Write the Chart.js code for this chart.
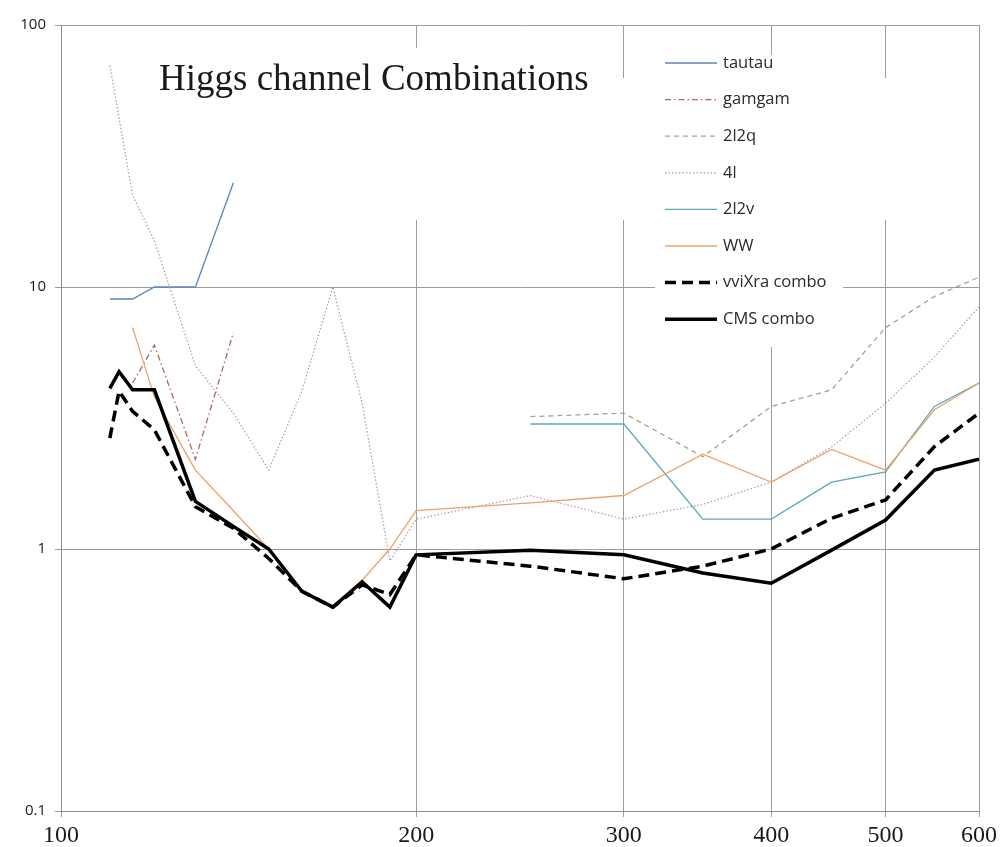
<!DOCTYPE html>
<html>
<head>
<meta charset="utf-8">
<title>Higgs channel Combinations</title>
<script src="https://cdn.jsdelivr.net/npm/chart.js@4.4.1/dist/chart.umd.min.js"></script>
<style>
  html, body { margin: 0; padding: 0; background: #fff; }
  #wrap { width: 1001px; height: 847px; }
</style>
</head>
<body>
<div id="wrap"><canvas id="higgs" width="1001" height="847"></canvas></div>
<script>
// Higgs mass points (GeV), shared by all the series below
const masses = [110, 112, 115, 120, 130, 140, 150, 160, 170, 180, 190, 200, 250, 300, 350, 400, 450, 500, 550, 600];

// limits per channel (null = no point at that mass)
const tautau = [9.0, null, 9.0, 10, 10, 25, null, null, null, null, null, null, null, null, null, null, null, null, null, null];
const gamgam = [null, null, 4.3, 6.0, 2.2, 6.7, null, null, null, null, null, null, null, null, null, null, null, null, null, null];
const twoL2q = [null, null, null, null, null, null, null, null, null, null, null, null, 3.2, 3.3, 2.25, 3.5, 4.05, 7.0, 9.2, 10.9];
const fourL  = [70, null, 22.4, 15, 5.0, 3.3, 2.0, 4.0, 10, 3.6, 0.9, 1.3, 1.6, 1.3, 1.48, 1.8, 2.45, 3.6, 5.4, 8.4];
const twoL2v = [null, null, null, null, null, null, null, null, null, null, null, null, 3.0, 3.0, 1.3, 1.3, 1.8, 1.97, 3.5, 4.3];
const ww     = [null, null, 7.0, 3.8, 2.0, 1.4, 1.0, 0.7, 0.6, 0.76, 1.0, 1.4, 1.5, 1.6, 2.3, 1.8, 2.4, 2.0, 3.4, 4.3];
const vvixra = [2.65, 4.0, 3.35, 2.85, 1.45, 1.2, 0.92, 0.69, 0.6, 0.73, 0.67, 0.95, 0.86, 0.77, 0.86, 1.0, 1.31, 1.54, 2.46, 3.3];
const cms    = [4.1, 4.75, 4.05, 4.05, 1.52, 1.22, 1.0, 0.69, 0.6, 0.75, 0.6, 0.95, 0.99, 0.95, 0.81, 0.74, 0.99, 1.29, 2.0, 2.2];

const xTicks = [100, 200, 300, 400, 500, 600];
const yTicks = [0.1, 1, 10, 100];

const titleText = "Higgs channel Combinations";

// turn one value list into {x, y} points, dropping the empty masses
function points(values) {
  return masses
    .map((m, i) => ({ x: m, y: values[i] }))
    .filter(p => p.y !== null);
}

const series = [
  { label: "tautau",       data: points(tautau), borderColor: "#5a86b8", borderWidth: 1.3, borderDash: [] },
  { label: "gamgam",       data: points(gamgam), borderColor: "#a86868", borderWidth: 1.3, borderDash: [6, 3, 1.5, 3] },
  { label: "2l2q",         data: points(twoL2q), borderColor: "#a3a585", borderWidth: 1.3, borderDash: [5, 4] },
  { label: "4l",           data: points(fourL),  borderColor: "#a899b8", borderWidth: 1.2, borderDash: [1.5, 2] },
  { label: "2l2v",         data: points(twoL2v), borderColor: "#5aa8bd", borderWidth: 1.3, borderDash: [] },
  { label: "WW",           data: points(ww),     borderColor: "#eba26a", borderWidth: 1.3, borderDash: [] },
  { label: "vviXra combo", data: points(vvixra), borderColor: "#000000", borderWidth: 3.5, borderDash: [11, 6] },
  { label: "CMS combo",    data: points(cms),    borderColor: "#000000", borderWidth: 3.5, borderDash: [] }
];

// later series sit on top, like the original spreadsheet chart
series.forEach((s, i) => {
  s.order = series.length - 1 - i;
  s.fill = false;
  s.pointRadius = 0;
  s.tension = 0;
});

// white patches behind the title and legend hide the grid there
const paperBoxes = [
  [150, 48, 450, 172],
  [600, 78, 300, 142],
  [655, 55, 188, 292]
];

const paperPlugin = {
  id: "paper",
  beforeDatasetsDraw(chart) {
    const ctx = chart.ctx;
    ctx.save();
    ctx.fillStyle = "#ffffff";
    paperBoxes.forEach(b => ctx.fillRect(b[0], b[1], b[2], b[3]));
    ctx.restore();
  }
};

// title and legend drawn by hand so the line samples keep their dashes
const annotatePlugin = {
  id: "annotate",
  afterDraw(chart) {
    const ctx = chart.ctx;
    ctx.save();
    ctx.fillStyle = "#1a1a1a";
    ctx.font = "37px 'Liberation Serif', serif";
    ctx.textBaseline = "alphabetic";
    ctx.fillText(titleText, 159, 90);

    ctx.font = "16.5px 'Open Sans', sans-serif";
    ctx.textBaseline = "middle";
    chart.data.datasets.forEach((ds, i) => {
      const y = 63 + i * 36.6;
      ctx.beginPath();
      ctx.strokeStyle = ds.borderColor;
      ctx.lineWidth = ds.borderWidth;
      ctx.setLineDash(ds.borderDash);
      ctx.moveTo(665, y);
      ctx.lineTo(717, y);
      ctx.stroke();
      ctx.setLineDash([]);
      ctx.fillStyle = "#2a2a2a";
      ctx.fillText(ds.label, 723, y);
    });
    ctx.restore();
  }
};

const ctx = document.getElementById("higgs").getContext("2d");
const higgsChart = new Chart(ctx, {
  type: "line",
  data: { datasets: series },
  plugins: [paperPlugin, annotatePlugin],
  options: {
    responsive: false,
    animation: false,
    layout: { padding: { top: 25, right: 21, left: 0, bottom: 0 } },
    plugins: {
      legend: { display: false },
      tooltip: { enabled: false }
    },
    scales: {
      x: {
        type: "logarithmic",
        min: 100,
        max: 600,
        afterBuildTicks(scale) {
          scale.ticks = xTicks.map(v => ({ value: v }));
        },
        afterFit(scale) {
          scale.height = 36;
        },
        grid: { color: "#9c9c9c", lineWidth: 1, tickLength: 6 },
        border: { color: "#8c8c8c", width: 1 },
        ticks: {
          autoSkip: false,
          maxRotation: 0,
          padding: 4,
          color: "#1a1a1a",
          font: { family: "'Liberation Serif', serif", size: 24 },
          callback: v => String(v)
        }
      },
      y: {
        type: "logarithmic",
        min: 0.1,
        max: 100,
        afterBuildTicks(scale) {
          scale.ticks = yTicks.map(v => ({ value: v }));
        },
        afterFit(scale) {
          scale.width = 61;
        },
        grid: { color: "#9c9c9c", lineWidth: 1, tickLength: 6 },
        border: { color: "#8c8c8c", width: 1 },
        ticks: {
          autoSkip: false,
          padding: 9,
          color: "#1a1a1a",
          font: { family: "'Open Sans', sans-serif", size: 15 },
          callback: v => String(v)
        }
      }
    }
  }
});
</script>
</body>
</html>
